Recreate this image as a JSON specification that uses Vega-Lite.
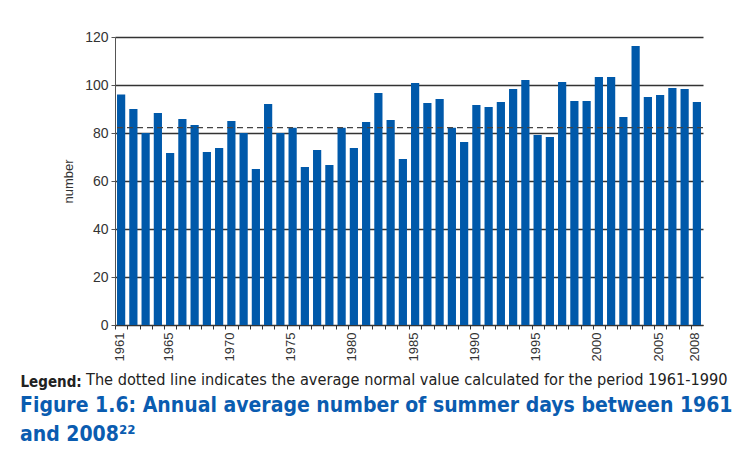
{
  "$schema": "https://vega.github.io/schema/vega-lite/v6.json",
  "padding": {"left": 20, "top": 30, "right": 0, "bottom": 0},
  "background": "white",
  "title": {
    "text": ["Figure 1.6: Annual average number of summer days between 1961", "and 2008²²"],
    "orient": "bottom",
    "anchor": "start",
    "frame": "bounds",
    "font": "DejaVu Sans Condensed, sans-serif",
    "fontSize": 21,
    "fontWeight": "bold",
    "color": "#0a5cb0",
    "lineHeight": 29,
    "offset": 6
  },
  "vconcat": [
    {
      "width": 588,
      "height": 288,
      "title": {
        "text": "The dotted line indicates the average normal value calculated for the period 1961-1990",
        "orient": "bottom",
        "anchor": "start",
        "frame": "group",
        "dx": -29,
        "offset": -17,
        "font": "DejaVu Sans Condensed, sans-serif",
        "fontSize": 16.2,
        "fontWeight": "normal",
        "color": "#222"
      },
      "layer": [
        {
          "data": {
            "values": [
              {"year": 1961, "days": 96}, {"year": 1962, "days": 90}, {"year": 1963, "days": 80},
              {"year": 1964, "days": 88.3}, {"year": 1965, "days": 71.7}, {"year": 1966, "days": 85.8},
              {"year": 1967, "days": 83.3}, {"year": 1968, "days": 72.1}, {"year": 1969, "days": 73.7},
              {"year": 1970, "days": 85}, {"year": 1971, "days": 80}, {"year": 1972, "days": 65},
              {"year": 1973, "days": 92.1}, {"year": 1974, "days": 80}, {"year": 1975, "days": 82.2},
              {"year": 1976, "days": 65.8}, {"year": 1977, "days": 72.9}, {"year": 1978, "days": 66.7},
              {"year": 1979, "days": 82.2}, {"year": 1980, "days": 73.7}, {"year": 1981, "days": 84.6},
              {"year": 1982, "days": 96.7}, {"year": 1983, "days": 85.4}, {"year": 1984, "days": 69.2},
              {"year": 1985, "days": 100.8}, {"year": 1986, "days": 92.5}, {"year": 1987, "days": 94.2},
              {"year": 1988, "days": 82.2}, {"year": 1989, "days": 76.2}, {"year": 1990, "days": 91.7},
              {"year": 1991, "days": 90.8}, {"year": 1992, "days": 92.9}, {"year": 1993, "days": 98.3},
              {"year": 1994, "days": 102.1}, {"year": 1995, "days": 79.2}, {"year": 1996, "days": 78.3},
              {"year": 1997, "days": 101.2}, {"year": 1998, "days": 93.3}, {"year": 1999, "days": 93.3},
              {"year": 2000, "days": 103.3}, {"year": 2001, "days": 103.3}, {"year": 2002, "days": 86.7},
              {"year": 2003, "days": 116.2}, {"year": 2004, "days": 95}, {"year": 2005, "days": 95.8},
              {"year": 2006, "days": 98.7}, {"year": 2007, "days": 98.3}, {"year": 2008, "days": 92.9}
            ]
          },
          "mark": {"type": "bar", "color": "#0059aa"},
          "encoding": {
            "x": {
              "field": "year",
              "type": "ordinal",
              "scale": {"paddingInner": 0.33, "paddingOuter": 0.165},
              "axis": {
                "title": "Legend:",
                "titleFont": "DejaVu Sans Condensed, sans-serif",
                "titleFontSize": 15,
                "titleFontWeight": "bold",
                "titleColor": "#222",
                "titleAnchor": "start",
                "titleAlign": "left",
                "titleX": -95,
                "titleY": 61,
                "titleBaseline": "alphabetic",
                "bandPosition": 0,
                "tickOffset": -2,
                "labelOffset": 0,
                "labelAngle": -90,
                "labelAlign": "right",
                "labelBaseline": "middle",
                "labelPadding": 3,
                "labelFont": "Liberation Sans, Arial, sans-serif",
                "labelFontSize": 13,
                "labelColor": "#333",
                "labelOverlap": false,
                "labelExpr": "indexof([1961,1965,1970,1975,1980,1985,1990,1995,2000,2005,2008], datum.value) >= 0 ? datum.label : ''",
                "tickSize": 4,
                "tickColor": "#333",
                "domainColor": "#333",
                "grid": false
              }
            },
            "y": {
              "field": "days",
              "type": "quantitative",
              "scale": {"domain": [0, 120], "nice": false},
              "axis": {
                "title": "number",
                "titleFont": "Liberation Sans, Arial, sans-serif",
                "titleFontSize": 13,
                "titleFontWeight": "normal",
                "titleColor": "#333",
                "titlePadding": 9,
                "values": [0, 20, 40, 60, 80, 100, 120],
                "labelFont": "Liberation Sans, Arial, sans-serif",
                "labelFontSize": 14,
                "labelColor": "#333",
                "labelPadding": 3,
                "tickSize": 4,
                "tickColor": "#555",
                "domainColor": "#555",
                "grid": true,
                "gridColor": "#333",
                "gridWidth": 1.3
              }
            }
          }
        },
        {
          "data": {"values": [{"normal": 82.2}]},
          "mark": {"type": "rule", "color": "#444", "strokeWidth": 1.2, "strokeDash": [6, 4]},
          "encoding": {"y": {"field": "normal", "type": "quantitative"}}
        }
      ]
    }
  ],
  "config": {
    "view": {"stroke": null},
    "concat": {"spacing": 0}
  }
}
